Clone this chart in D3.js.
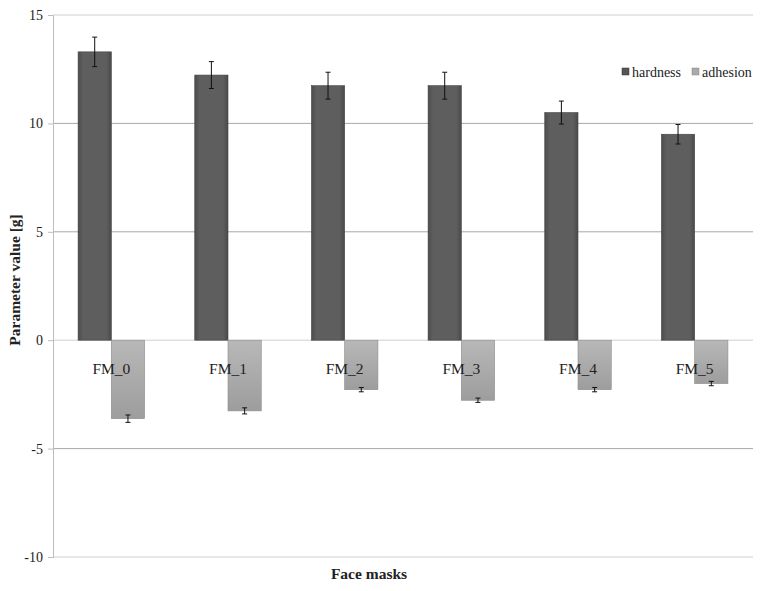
<!DOCTYPE html>
<html lang="en">
<head>
  <meta charset="UTF-8">
  <script src="https://cdn.jsdelivr.net/npm/d3@7"></script>
  <title>Face masks</title>
  <style>
    body { margin: 0; background: #fff; }
    text { font-family: "Liberation Serif", "DejaVu Serif", serif; fill: #222; }
  </style>
</head>
<body>
<svg width="766" height="591"></svg>
<script>
// data
var categories = ["FM_0", "FM_1", "FM_2", "FM_3", "FM_4", "FM_5"];
var seriesNames = ["hardness", "adhesion"];
var hardness = [13.3, 12.23, 11.74, 11.74, 10.5, 9.5];
var hardnessErr = [0.68, 0.62, 0.62, 0.62, 0.53, 0.45];
var adhesion = [-3.62, -3.26, -2.28, -2.77, -2.28, -2.0];
var adhesionErr = [0.17, 0.14, 0.1, 0.1, 0.1, 0.1];
var yTicks = [-10, -5, 0, 5, 10, 15];

var svg = d3.select("svg");
var margin = {top: 15, left: 53, right: 13, bottom: 34};
var width = 766 - margin.left - margin.right;
var height = 591 - margin.top - margin.bottom;

var defs = svg.append("defs");
var g1 = defs.append("linearGradient").attr("id", "gHard").attr("x1", 0).attr("x2", 1).attr("y1", 0).attr("y2", 0);
g1.append("stop").attr("offset", "0%").attr("stop-color", "#4c4c4c");
g1.append("stop").attr("offset", "15%").attr("stop-color", "#5e5e5e");
g1.append("stop").attr("offset", "85%").attr("stop-color", "#5e5e5e");
g1.append("stop").attr("offset", "100%").attr("stop-color", "#4a4a4a");
var g2 = defs.append("linearGradient").attr("id", "gAdh").attr("x1", 0).attr("x2", 0).attr("y1", 0).attr("y2", 1);
g2.append("stop").attr("offset", "0%").attr("stop-color", "#b8b8b8");
g2.append("stop").attr("offset", "100%").attr("stop-color", "#9d9d9d");

var g = svg.append("g").attr("transform", "translate(" + margin.left + "," + margin.top + ")");

var x0 = d3.scaleBand().domain(categories).range([0, width]).paddingInner(0.43).paddingOuter(0.215);
var x1 = d3.scaleBand().domain(seriesNames).range([0, x0.bandwidth()]);
var y = d3.scaleLinear().domain([-10, 15]).range([height, 0]);

// gridlines
g.selectAll(".grid").data(yTicks).enter().append("line")
  .attr("x1", 0).attr("x2", width)
  .attr("y1", function(d){ return y(d) }).attr("y2", function(d){ return y(d) })
  .attr("stroke", function(d){ return d === 15 || d === -10 || d === 0 ? "#cfcfcf" : "#a8a8a8" })
  .attr("stroke-width", 1);

// y axis
var yAxis = g.append("g").call(d3.axisLeft(y).tickValues(yTicks).tickFormat(function(d){ return String(d) }).tickSize(5).tickPadding(5));
yAxis.select(".domain").attr("stroke", "#bdbdbd");
yAxis.selectAll(".tick line").attr("stroke", "#bdbdbd");
yAxis.selectAll("text").style("font-size", "14px").style("font-family", "'Liberation Serif', serif").style("fill", "#222");

var cat = g.selectAll(".cat").data(categories).enter().append("g")
  .attr("transform", function(d){ return "translate(" + x0(d) + ",0)" });

var rows = categories.map(function(c, i){
  return [
    {key: "hardness", v: hardness[i], e: hardnessErr[i]},
    {key: "adhesion", v: adhesion[i], e: adhesionErr[i]}
  ];
});

cat.selectAll("rect").data(function(d, i){ return rows[i] }).enter().append("rect")
  .attr("x", function(d){ return x1(d.key) })
  .attr("width", x1.bandwidth())
  .attr("y", function(d){ return y(Math.max(0, d.v)) })
  .attr("height", function(d){ return Math.abs(y(d.v) - y(0)) })
  .attr("fill", function(d){ return d.key === "hardness" ? "url(#gHard)" : "url(#gAdh)" })
  .attr("stroke", function(d){ return d.key === "hardness" ? "#444" : "#8a8a8a" })
  .attr("stroke-width", 0.6);

// category labels
cat.append("text")
  .attr("x", x0.bandwidth() / 2)
  .attr("y", y(0) + 34)
  .attr("text-anchor", "middle")
  .style("font-size", "15.5px")
  .text(function(d){ return d });

// error bars
var eb = cat.selectAll(".err").data(function(d, i){ return rows[i] }).enter().append("g");
eb.append("line")
  .attr("x1", function(d){ return x1(d.key) + x1.bandwidth() / 2 })
  .attr("x2", function(d){ return x1(d.key) + x1.bandwidth() / 2 })
  .attr("y1", function(d){ return y(d.v - d.e) })
  .attr("y2", function(d){ return y(d.v + d.e) })
  .attr("stroke", "#111").attr("stroke-width", 1);
[-1, 1].forEach(function(s){
  eb.append("line")
    .attr("x1", function(d){ return x1(d.key) + x1.bandwidth() / 2 - 2.5 })
    .attr("x2", function(d){ return x1(d.key) + x1.bandwidth() / 2 + 2.5 })
    .attr("y1", function(d){ return y(d.v + s * d.e) })
    .attr("y2", function(d){ return y(d.v + s * d.e) })
    .attr("stroke", "#111").attr("stroke-width", 1);
});

// legend
var legend = svg.append("g").attr("transform", "translate(622,72)");
var lg = legend.selectAll("g").data(seriesNames).enter().append("g")
  .attr("transform", function(d, i){ return "translate(" + (i * 70) + ",0)" });
lg.append("rect").attr("x", 0).attr("y", -4).attr("width", 7).attr("height", 7)
  .attr("fill", function(d){ return d === "hardness" ? "#555" : "#aaa" })
  .attr("stroke", function(d){ return d === "hardness" ? "#333" : "#888" }).attr("stroke-width", 0.5);
lg.append("text").attr("x", 10).attr("y", 4.5).style("font-size", "14px").text(function(d){ return d });

// axis titles
svg.append("text")
  .attr("transform", "translate(20," + 280 + ") rotate(-90)")
  .attr("text-anchor", "middle")
  .style("font-size", "15.5px").style("font-weight", "bold")
  .text("Parameter value  [g]");
svg.append("text")
  .attr("x", 369).attr("y", 579)
  .attr("text-anchor", "middle")
  .style("font-size", "15.5px").style("font-weight", "bold")
  .text("Face masks");
</script>
</body>
</html>
